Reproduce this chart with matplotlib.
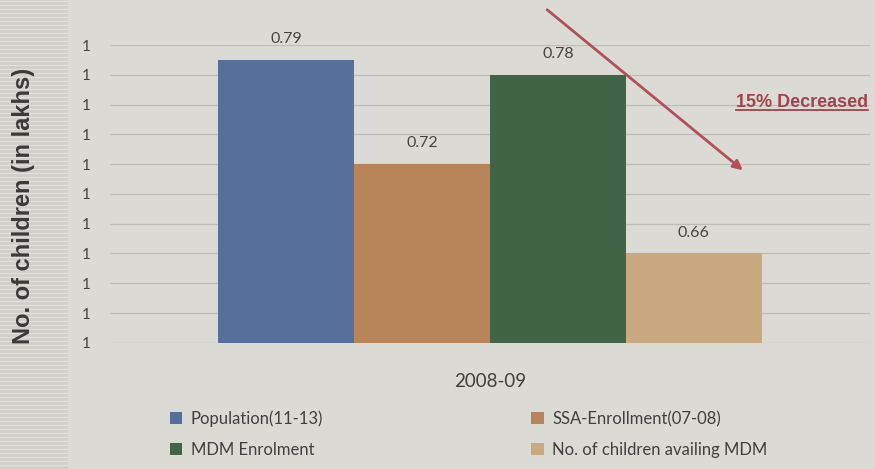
import matplotlib.pyplot as plt
from matplotlib.lines import Line2D
from matplotlib.patches import Patch, FancyArrowPatch, Rectangle
from matplotlib.ticker import FuncFormatter, MultipleLocator

# data
series = ['Population(11-13)', 'SSA-Enrollment(07-08)', 'MDM Enrolment', 'No. of children availing MDM']
values = [0.79, 0.72, 0.78, 0.66]
value_labels = ['0.79', '0.72', '0.78', '0.66']
category = '2008-09'
colors = ['#56709a', '#b8845a', '#406445', '#c9aa80']

bg = '#dcdad5'
plt.rcParams['font.family'] = ['Lato', 'DejaVu Sans']

fig = plt.figure(figsize=(8.75, 4.69), dpi=100, facecolor=bg)

# scanned-page strip on the left
fig.add_artist(Rectangle((0, 0), 68 / 875, 1, transform=fig.transFigure,
                         facecolor='#d2d0cb', edgecolor='none', zorder=0))
for k in range(0, 469, 4):
    fig.add_artist(Line2D([0, 68 / 875], [k / 469, k / 469], transform=fig.transFigure,
                          color='#e2e0dc', linewidth=0.8, zorder=0))

ax = fig.add_axes([0.126, 0.269, 0.868, 0.635], facecolor=bg)

pos = list(range(len(values)))
ax.bar(pos, values, width=1.0, color=colors, zorder=3)
for p, v, lab in zip(pos, values, value_labels):
    ax.annotate(lab, (p, v), xytext=(0, 10), textcoords='offset points',
                ha='center', va='bottom', fontsize=11.5, color='#454545')

ax.set_ylim(0.6, 0.8)
ax.set_xlim(-1.295, 4.295)
ax.yaxis.set_major_locator(MultipleLocator(0.02))
ax.yaxis.set_major_formatter(FuncFormatter(lambda v, _: f'{v:.0f}'))
ax.grid(axis='y', color='#bdbcb8', linewidth=0.9, zorder=0)
ax.tick_params(axis='y', length=0, labelsize=11, labelcolor='#454545', pad=14)
ax.tick_params(axis='x', length=0)
ax.set_xticks([1.5])
ax.set_xticklabels([category], fontsize=13.5, color='#404040')
ax.tick_params(axis='x', pad=22)
for s in ax.spines.values():
    s.set_visible(False)

fig.text(0.027, 0.561, 'No. of children (in lakhs)', rotation=90, ha='center', va='center',
         fontsize=17, fontweight='bold', color='#3a3a3a', family='Liberation Sans')

handles = [Patch(facecolor=c, edgecolor='none') for c in colors]
order = [0, 2, 1, 3]
leg = fig.legend([handles[i] for i in order], [series[i] for i in order], ncol=2,
                 loc='upper left', bbox_to_anchor=(0.194, 0.125), frameon=False,
                 fontsize=12, handlelength=0.75, handleheight=0.75, handletextpad=0.5,
                 columnspacing=12.5, labelspacing=0.9, borderaxespad=0, borderpad=0)
for t in leg.get_texts():
    t.set_color('#404040')

# annotation arrow and note
arrow_col = '#b0505a'
fig.patches.append(FancyArrowPatch(
    (545 / 875, 1 - 8 / 469), (745 / 875, 1 - 172 / 469), transform=fig.transFigure,
    arrowstyle='-|>', mutation_scale=14, color=arrow_col, linewidth=2))
note = fig.text(868 / 875, 1 - 102 / 469, '15% Decreased', ha='right', va='center',
                fontsize=13, fontweight='bold', color='#a2434d', family='Liberation Sans')
fig.canvas.draw()
bb = note.get_window_extent().transformed(fig.transFigure.inverted())
fig.add_artist(Line2D([bb.x0, bb.x1], [bb.y0 + 0.002, bb.y0 + 0.002], transform=fig.transFigure,
                      color='#a2434d', linewidth=1.3))

fig.savefig('out.png', dpi=100, facecolor=bg)
